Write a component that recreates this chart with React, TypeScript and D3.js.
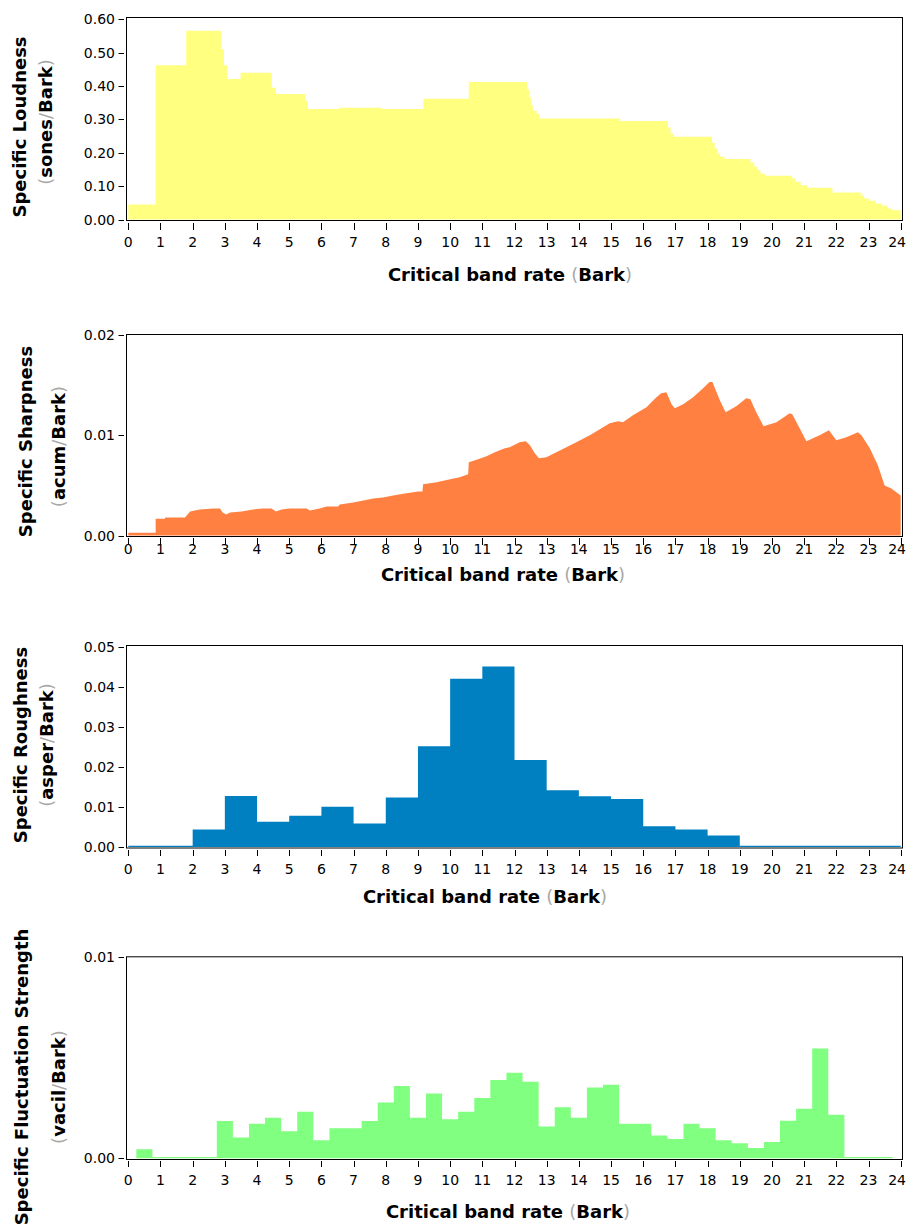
import React from 'react';
import * as d3 from 'd3';

// ---------- data ----------
const barkTicks = [0, 1, 2, 3, 4, 5, 6, 7, 8, 9, 10, 11, 12, 13, 14, 15, 16, 17, 18, 19, 20, 21, 22, 23, 24];

// Specific loudness: step start positions (Bark) and values (sones/Bark)
const loudnessEdges = [0, 0.85, 1.8, 2.88, 2.97, 3.07, 3.49, 4.46, 4.59, 5.49, 5.58, 6.55, 7.87, 9.17, 10.58,
  12.39, 12.45, 12.51, 12.57, 12.69, 12.77, 15.27, 16.77, 16.85, 16.95, 18.14, 18.22, 18.31, 18.39, 18.53,
  19.33, 19.45, 19.54, 19.64, 19.78, 20.63, 20.73, 20.89, 21.1, 21.88, 22.76, 22.86, 23.02, 23.22, 23.43,
  23.59, 23.74];
const loudnessValues = [0.045, 0.462, 0.566, 0.51, 0.462, 0.421, 0.44, 0.395, 0.376, 0.355, 0.331, 0.335, 0.331,
  0.362, 0.412, 0.39, 0.366, 0.343, 0.326, 0.316, 0.303, 0.295, 0.276, 0.258, 0.248, 0.23, 0.213, 0.198, 0.188,
  0.181, 0.171, 0.158, 0.148, 0.138, 0.131, 0.123, 0.113, 0.103, 0.095, 0.081, 0.073, 0.063, 0.056, 0.048,
  0.041, 0.033, 0.028];
const loudnessTicks = [0, 0.1, 0.2, 0.3, 0.4, 0.5, 0.6];

// Specific sharpness: outline points (Bark, acum/Bark)
const sharpnessBark = [0, 0.85, 0.85, 1.14, 1.14, 1.76, 1.92, 2.22, 2.64, 2.85, 2.93, 3.05, 3.16, 3.52, 3.88,
  4.19, 4.45, 4.59, 4.76, 5.02, 5.54, 5.64, 5.95, 6.16, 6.52, 6.57, 6.99, 7.3, 7.61, 7.92, 8.23, 8.59, 9.01,
  9.14, 9.16, 9.58, 10.0, 10.3, 10.56, 10.58, 10.87, 11.13, 11.39, 11.7, 11.85, 12.16, 12.35, 12.48, 12.63,
  12.76, 12.99, 13.3, 13.61, 13.92, 14.34, 14.65, 14.96, 15.22, 15.37, 15.68, 16.1, 16.41, 16.56, 16.72,
  16.88, 16.98, 17.24, 17.55, 17.86, 18.06, 18.15, 18.38, 18.56, 18.89, 19.2, 19.33, 19.51, 19.74, 20.14,
  20.55, 20.63, 20.86, 21.07, 21.48, 21.77, 22.0, 22.31, 22.67, 22.78, 23.04, 23.29, 23.5, 23.71, 24.0];
const sharpnessValues = [0.00027, 0.00027, 0.00167, 0.00167, 0.0018, 0.0018, 0.0024, 0.0026, 0.0027, 0.0027,
  0.0023, 0.0021, 0.0023, 0.0024, 0.0026, 0.0027, 0.0027, 0.0024, 0.0026, 0.0027, 0.0027, 0.0025, 0.0027,
  0.0029, 0.0029, 0.0031, 0.0033, 0.0035, 0.0037, 0.0038, 0.004, 0.0042, 0.0044, 0.0044, 0.0051, 0.0053,
  0.0056, 0.0058, 0.0061, 0.0073, 0.0076, 0.0079, 0.0083, 0.0087, 0.0088, 0.0093, 0.0094, 0.009, 0.0082,
  0.0077, 0.0078, 0.0083, 0.0088, 0.0093, 0.01, 0.0106, 0.0112, 0.0114, 0.0113, 0.012, 0.0128, 0.0138,
  0.0142, 0.0143, 0.0131, 0.0127, 0.0131, 0.0138, 0.0147, 0.0153, 0.0153, 0.0135, 0.0123, 0.0129, 0.0137,
  0.0136, 0.0123, 0.0109, 0.0113, 0.0122, 0.0121, 0.0107, 0.0094, 0.01, 0.0105, 0.0095, 0.0098, 0.0103,
  0.01, 0.0087, 0.007, 0.005, 0.0047, 0.004];
const sharpnessTicks = [0, 0.01, 0.02];

// Specific roughness: one value per 1-Bark band (asper/Bark)
const roughnessBands = [0, 1, 2, 3, 4, 5, 6, 7, 8, 9, 10, 11, 12, 13, 14, 15, 16, 17, 18, 19, 20, 21, 22, 23];
const roughnessValues = [0.0003, 0.0003, 0.0044, 0.0128, 0.0063, 0.0078, 0.0101, 0.0059, 0.0124, 0.0252,
  0.0421, 0.0452, 0.0218, 0.0142, 0.0127, 0.012, 0.0052, 0.0044, 0.0029, 0.0003, 0.0003, 0.0003, 0.0003, 0.0003];
const roughnessTicks = [0, 0.01, 0.02, 0.03, 0.04, 0.05];

// Specific fluctuation strength: one value per half-Bark band centre (vacil/Bark)
const fluctuationCenters = [0, 0.5, 1, 1.5, 2, 2.5, 3, 3.5, 4, 4.5, 5, 5.5, 6, 6.5, 7, 7.5, 8, 8.5, 9, 9.5, 10,
  10.5, 11, 11.5, 12, 12.5, 13, 13.5, 14, 14.5, 15, 15.5, 16, 16.5, 17, 17.5, 18, 18.5, 19, 19.5, 20, 20.5,
  21, 21.5, 22, 22.5, 23, 23.5, 24];
const fluctuationValues = [0, 0.00045, 0.00006, 0.00006, 0.00006, 0.00006, 0.00186, 0.00104, 0.00172, 0.00202,
  0.00134, 0.00232, 0.0009, 0.00149, 0.00149, 0.00186, 0.00277, 0.0036, 0.00202, 0.00322, 0.00194, 0.00232,
  0.003, 0.0039, 0.00426, 0.00381, 0.00158, 0.00254, 0.00202, 0.00352, 0.00366, 0.00172, 0.00172, 0.00113,
  0.00096, 0.00172, 0.00149, 0.0009, 0.00075, 0.00051, 0.00081, 0.00187, 0.00247, 0.00546, 0.00217, 0.00006,
  0.00006, 0.00006, 0];
const fluctuationTicks = [0, 0.01];

// ---------- helpers ----------
const TICK_FONT = '"DejaVu Sans", sans-serif';
const TITLE_FONT = '"DejaVu Sans", sans-serif';
const GRAY = '#a8a8a8';

const xScale = d3.scaleLinear().domain([0, 24]).range([128.3, 900.7]);

type Pt = [number, number];

function Paren({ text }: { text: string }) {
  const parts = text.split(/([()/])/).filter((s) => s.length > 0);
  return (
    <>
      {parts.map((p, i) =>
        p === '(' || p === ')' || p === '/' ? (
          <tspan key={i} fill={GRAY} fontWeight="normal">{p}</tspan>
        ) : (
          <tspan key={i}>{p}</tspan>
        )
      )}
    </>
  );
}

interface PanelProps {
  frameTop: number;
  frameBottom: number;
  y0: number;
  yTop: number;
  yMax: number;
  ticks: number[];
  fmt: (v: number) => string;
  points: Pt[];
  curve: d3.CurveFactory;
  color: string;
  tickY1: number;
  tickY2: number;
  labelY: number;
  titleY: number;
  titleX: number;
  line1: string;
  line2: string;
  l1x: number;
  l1y: number;
  l2x: number;
  l2y: number;
}

function Panel(p: PanelProps) {
  const y = d3.scaleLinear().domain([0, p.yMax]).range([p.y0, p.yTop]);
  const area = d3
    .area<Pt>()
    .x((d) => xScale(d[0]))
    .y0(p.y0)
    .y1((d) => y(d[1]))
    .curve(p.curve);
  const left = 126.5;
  const right = 902.5;
  const lastTick = barkTicks[barkTicks.length - 1];
  return (
    <g>
      <path d={area(p.points) || ''} fill={p.color} stroke="none" />
      <rect x={left} y={p.frameTop} width={right - left} height={p.frameBottom - p.frameTop}
        fill="none" stroke="#000" strokeWidth={1} />
      {p.ticks.map((t) => (
        <g key={t}>
          <line x1={118.5} x2={124} y1={Math.round(y(t)) + 0.5} y2={Math.round(y(t)) + 0.5} stroke="#000" />
          <text x={115} y={y(t)} dy="0.36em" textAnchor="end" fontFamily={TICK_FONT} fontSize={14} fill="#000">
            {p.fmt(t)}
          </text>
        </g>
      ))}
      {barkTicks.map((b) => (
        <g key={b}>
          <line x1={Math.round(xScale(b)) + 0.5} x2={Math.round(xScale(b)) + 0.5} y1={p.tickY1} y2={p.tickY2} stroke="#000" />
          <text x={b === lastTick ? 906 : xScale(b)} y={p.labelY} dy="0.36em"
            textAnchor={b === lastTick ? 'end' : 'middle'} fontFamily={TICK_FONT} fontSize={14} fill="#000">
            {b}
          </text>
        </g>
      ))}
      <text x={p.titleX} y={p.titleY} dy="0.36em" textAnchor="middle" fontFamily={TITLE_FONT} fontWeight="bold"
        fontSize={18} fill="#000">
        <Paren text="Critical band rate (Bark)" />
      </text>
      <text transform={`translate(${p.l1x},${p.l1y}) rotate(-90)`} textAnchor="middle" fontFamily={TITLE_FONT}
        fontWeight="bold" fontSize={18} fill="#000">
        {p.line1}
      </text>
      <text transform={`translate(${p.l2x},${p.l2y}) rotate(-90)`} textAnchor="middle" fontFamily={TITLE_FONT}
        fontWeight="bold" fontSize={18} fill="#000">
        <Paren text={p.line2} />
      </text>
    </g>
  );
}

function stepPoints(starts: number[], values: number[]): Pt[] {
  const pts: Pt[] = starts.map((s, i) => [s, values[i]] as Pt);
  pts.push([24, values[values.length - 1]]);
  return pts;
}

export default function App() {
  const loudPts = stepPoints(loudnessEdges, loudnessValues);
  const sharpPts: Pt[] = sharpnessBark.map((b, i) => [b, sharpnessValues[i]] as Pt);
  const roughPts = stepPoints(roughnessBands, roughnessValues);
  const fluctStarts = fluctuationCenters.map((c) => Math.max(0, c - 0.25));
  const fluctPts = stepPoints(fluctStarts, fluctuationValues);

  const f2 = (v: number) => v.toFixed(2);

  return (
    <svg width={907} height={1231} style={{ position: 'absolute', left: 0, top: 0, display: 'block', background: '#fff' }}>
      <rect x={0} y={0} width={907} height={1231} fill="#fff" />
      <Panel frameTop={17.5} frameBottom={220.5} y0={219.5} yTop={19.3} yMax={0.6} ticks={loudnessTicks} fmt={f2}
        points={loudPts} curve={d3.curveStepAfter} color="#ffff80" tickY1={223} tickY2={230} labelY={241.5}
        titleY={275} titleX={510} line1="Specific Loudness" line2="(sones/Bark)" l1x={26} l1y={127} l2x={52} l2y={122} />
      <Panel frameTop={334.5} frameBottom={536.5} y0={535.5} yTop={335} yMax={0.02} ticks={sharpnessTicks} fmt={f2}
        points={sharpPts} curve={d3.curveLinear} color="#ff8040" tickY1={538} tickY2={545} labelY={549}
        titleY={575} titleX={503} line1="Specific Sharpness" line2="(acum/Bark)" l1x={31.5} l1y={441.5} l2x={65} l2y={446.5} />
      <Panel frameTop={645.5} frameBottom={848} y0={847} yTop={647.3} yMax={0.05} ticks={roughnessTicks} fmt={f2}
        points={roughPts} curve={d3.curveStepAfter} color="#0080c0" tickY1={850} tickY2={856} labelY={868.5}
        titleY={896.7} titleX={485} line1="Specific Roughness" line2="(asper/Bark)" l1x={27} l1y={745} l2x={53} l2y={745} />
      <Panel frameTop={956.8} frameBottom={1159.5} y0={1158.3} yTop={957.3} yMax={0.01} ticks={fluctuationTicks} fmt={f2}
        points={fluctPts} curve={d3.curveStepAfter} color="#80ff80" tickY1={1161} tickY2={1167} labelY={1180}
        titleY={1211.7} titleX={508} line1="Specific Fluctuation Strength" line2="(vacil/Bark)" l1x={28} l1y={1077} l2x={65} l2y={1087} />
    </svg>
  );
}
